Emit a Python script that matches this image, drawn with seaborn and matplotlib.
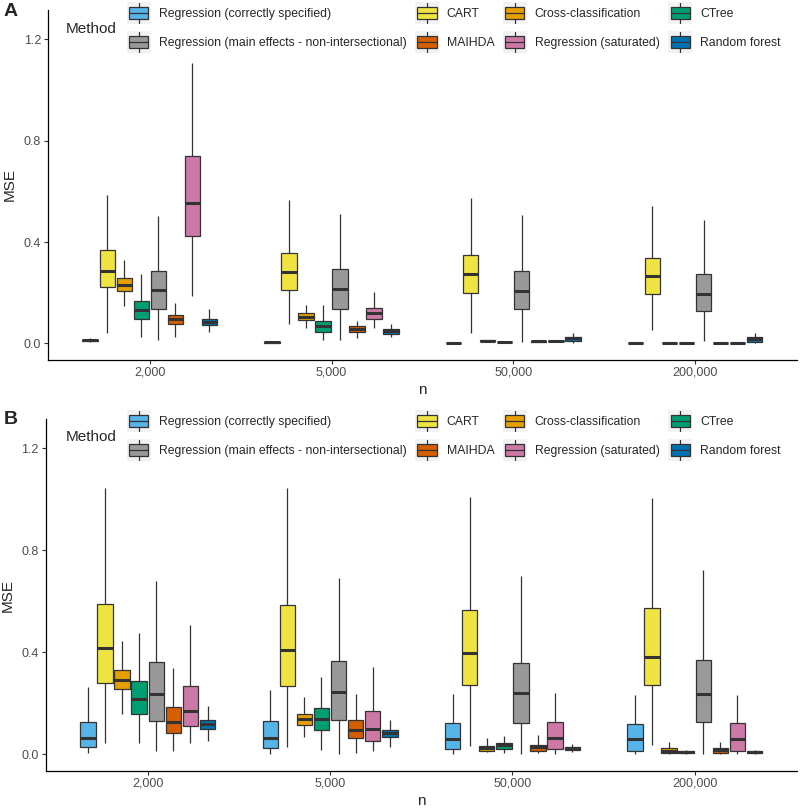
import matplotlib
matplotlib.use("Agg")
import matplotlib.pyplot as plt
import numpy as np
import pandas as pd
import seaborn as sns
from matplotlib.legend_handler import HandlerBase
from matplotlib.patches import Patch, Rectangle
from matplotlib.lines import Line2D

# --- Données : 5 valeurs par boîte (min, Q1, médiane, Q3, max) ---
n_labels = ["2,000", "5,000", "50,000", "200,000"]
methods = [
    "Regression (correctly specified)",
    "CART",
    "Cross-classification",
    "CTree",
    "Regression (main effects - non-intersectional)",
    "MAIHDA",
    "Regression (saturated)",
    "Random forest",
]
colors = ["#56B4E9", "#F0E442", "#E69F00", "#009E73",
          "#999999", "#D55E00", "#CC79A7", "#0072B2"]

# Panel A
a_reg_cs = [[0.005, 0.009, 0.012, 0.014, 0.020], [0.001, 0.003, 0.004, 0.005, 0.008],
            [0.000, 0.001, 0.001, 0.002, 0.003], [0.000, 0.0005, 0.001, 0.0015, 0.002]]
a_cart = [[0.043, 0.221, 0.286, 0.369, 0.585], [0.076, 0.210, 0.281, 0.355, 0.566],
          [0.040, 0.200, 0.272, 0.350, 0.572], [0.053, 0.196, 0.265, 0.338, 0.544]]
a_cross = [[0.147, 0.208, 0.231, 0.257, 0.331], [0.061, 0.091, 0.106, 0.119, 0.151],
           [0.006, 0.008, 0.010, 0.012, 0.015], [0.000, 0.001, 0.001, 0.002, 0.003]]
a_ctree = [[0.027, 0.097, 0.133, 0.169, 0.272], [0.014, 0.046, 0.067, 0.090, 0.150],
           [0.002, 0.004, 0.005, 0.006, 0.008], [0.000, 0.001, 0.001, 0.002, 0.003]]
a_reg_me = [[0.014, 0.137, 0.210, 0.286, 0.503], [0.013, 0.137, 0.216, 0.295, 0.511],
            [0.006, 0.137, 0.206, 0.286, 0.507], [0.009, 0.127, 0.197, 0.273, 0.487]]
a_maihda = [[0.027, 0.076, 0.095, 0.114, 0.161], [0.022, 0.046, 0.057, 0.067, 0.090],
            [0.005, 0.007, 0.008, 0.009, 0.011], [0.000, 0.001, 0.001, 0.002, 0.003]]
a_reg_sat = [[0.187, 0.422, 0.553, 0.738, 1.104], [0.061, 0.098, 0.119, 0.141, 0.202],
             [0.006, 0.008, 0.009, 0.010, 0.012], [0.000, 0.001, 0.001, 0.002, 0.003]]
a_rf = [[0.046, 0.071, 0.086, 0.098, 0.135], [0.026, 0.039, 0.048, 0.057, 0.078],
        [0.001, 0.009, 0.020, 0.027, 0.043], [0.001, 0.006, 0.016, 0.024, 0.040]]

# Panel B
b_reg_cs = [[0.004, 0.028, 0.063, 0.128, 0.265], [0.003, 0.025, 0.065, 0.130, 0.254],
            [0.000, 0.020, 0.060, 0.123, 0.237], [0.001, 0.014, 0.060, 0.120, 0.232]]
b_cart = [[0.043, 0.282, 0.419, 0.588, 1.045], [0.031, 0.268, 0.410, 0.587, 1.045],
          [0.035, 0.272, 0.397, 0.567, 1.008], [0.038, 0.271, 0.384, 0.575, 1.005]]
b_cross = [[0.157, 0.255, 0.293, 0.330, 0.444], [0.069, 0.117, 0.139, 0.160, 0.225],
           [0.008, 0.013, 0.024, 0.034, 0.063], [0.001, 0.004, 0.013, 0.024, 0.047]]
b_ctree = [[0.043, 0.157, 0.217, 0.288, 0.478], [0.017, 0.097, 0.138, 0.181, 0.303],
           [0.004, 0.020, 0.037, 0.043, 0.072], [0.001, 0.007, 0.010, 0.014, 0.018]]
b_reg_me = [[0.013, 0.132, 0.236, 0.363, 0.681], [0.003, 0.134, 0.246, 0.365, 0.693],
            [0.001, 0.124, 0.242, 0.359, 0.701], [0.001, 0.128, 0.237, 0.369, 0.724]]
b_maihda = [[0.012, 0.084, 0.128, 0.186, 0.338], [0.004, 0.063, 0.094, 0.135, 0.236],
            [0.004, 0.013, 0.028, 0.039, 0.075], [0.001, 0.004, 0.018, 0.026, 0.050]]
b_reg_sat = [[0.045, 0.111, 0.169, 0.268, 0.506], [0.014, 0.052, 0.100, 0.169, 0.342],
             [0.001, 0.022, 0.065, 0.128, 0.240], [0.001, 0.014, 0.060, 0.122, 0.233]]
b_rf = [[0.054, 0.098, 0.118, 0.136, 0.189], [0.028, 0.068, 0.083, 0.094, 0.135],
        [0.008, 0.018, 0.024, 0.029, 0.041], [0.003, 0.007, 0.009, 0.013, 0.017]]

panel_a = [a_reg_cs, a_cart, a_cross, a_ctree, a_reg_me, a_maihda, a_reg_sat, a_rf]
panel_b = [b_reg_cs, b_cart, b_cross, b_ctree, b_reg_me, b_maihda, b_reg_sat, b_rf]


def to_long(panel):
    rows = []
    for method, series in zip(methods, panel):
        for n, five in zip(n_labels, series):
            for v in five:
                rows.append({"Method": method, "n": n, "MSE": v})
    return pd.DataFrame(rows)


# Légende type ggplot (boîte avec médiane et moustaches sur fond gris clair)
class BoxKey(HandlerBase):
    def create_artists(self, legend, orig_handle, xd, yd, w, h, fontsize, trans):
        x0, y0 = -xd, -yd
        fc = orig_handle.get_facecolor()
        bg = Rectangle((x0, y0), w, h, facecolor="#F2F2F2", edgecolor="none", transform=trans)
        box = Rectangle((x0 + 0.1 * w, y0 + 0.22 * h), 0.8 * w, 0.56 * h,
                        facecolor=fc, edgecolor="#333333", lw=0.9, transform=trans)
        med = Line2D([x0 + 0.1 * w, x0 + 0.9 * w], [y0 + 0.5 * h] * 2,
                     color="#333333", lw=0.9, transform=trans)
        wlo = Line2D([x0 + 0.5 * w] * 2, [y0 + 0.05 * h, y0 + 0.22 * h],
                     color="#333333", lw=0.9, transform=trans)
        whi = Line2D([x0 + 0.5 * w] * 2, [y0 + 0.78 * h, y0 + 0.95 * h],
                     color="#333333", lw=0.9, transform=trans)
        return [bg, box, med, wlo, whi]


sns.set_theme(style="ticks")
plt.rcParams["font.family"] = ["Liberation Sans", "DejaVu Sans"]

fig = plt.figure(figsize=(8, 8.1), dpi=100)
ax_a = fig.add_axes([0.060, 0.5556, 0.936, 0.4321])
ax_b = fig.add_axes([0.057, 0.0481, 0.939, 0.4346])

# ordre colonne par colonne pour obtenir les lignes de la légende ggplot
leg_order = [0, 4, 1, 5, 2, 6, 3, 7]

for ax, panel, letter, leg_top in [(ax_a, panel_a, "A", 2), (ax_b, panel_b, "B", 410)]:
    df = to_long(panel)
    sns.boxplot(
        data=df, x="n", y="MSE", hue="Method",
        order=n_labels, hue_order=methods, palette=colors, saturation=1,
        whis=(0, 100), showfliers=False, width=0.75, gap=0.1,
        linecolor="#333333", linewidth=0.9,
        medianprops={"linewidth": 2.2},
        capprops={"visible": False},
        legend=False, ax=ax,
    )
    ax.set_xlim(-0.56, 3.56)
    ax.set_ylim(-0.065, 1.315)
    ax.set_yticks([0.0, 0.4, 0.8, 1.2])
    ax.set_yticklabels(["0.0", "0.4", "0.8", "1.2"])
    ax.tick_params(axis="both", labelsize=9, labelcolor="#4D4D4D", color="#333333",
                   length=3, width=0.8, pad=2)
    ax.set_xlabel("n", fontsize=11, labelpad=3)
    ax.set_ylabel("MSE", fontsize=11, labelpad=5)
    sns.despine(ax=ax)
    for s in ["left", "bottom"]:
        ax.spines[s].set_linewidth(0.9)
        ax.spines[s].set_color("black")

    handles = [Patch(facecolor=colors[i]) for i in leg_order]
    labels = [methods[i] for i in leg_order]
    fig.legend(
        handles, labels, handler_map={Patch: BoxKey()},
        loc="upper left", bbox_to_anchor=(127 / 800, 1 - leg_top / 810),
        ncol=4, frameon=False, fontsize=8.8, borderpad=0, borderaxespad=0,
        handlelength=1.95, handleheight=2.4, handletextpad=0.65,
        labelspacing=0.55, columnspacing=0.7,
    )
    fig.text(66 / 800, 1 - (leg_top + 27) / 810, "Method", fontsize=11, va="center")
    fig.text(4 / 800, 1 - (leg_top + 10) / 810, letter, fontsize=14,
             fontweight="bold", va="center")

plt.savefig("out.png", dpi=100)
plt.close()
